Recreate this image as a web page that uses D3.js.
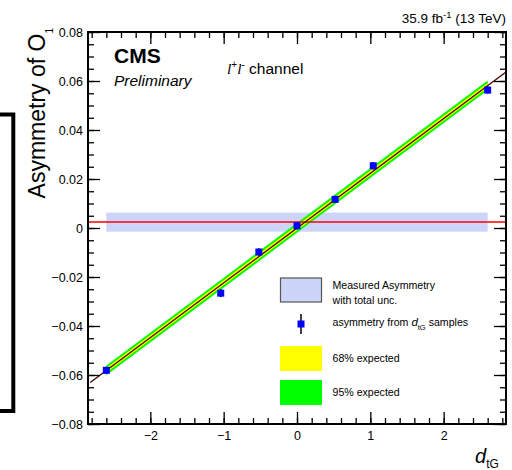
<!DOCTYPE html>
<html>
<head>
<meta charset="utf-8">
<script src="https://cdn.jsdelivr.net/npm/d3@7"></script>
<style>
  html, body { margin: 0; padding: 0; background: #fff; }
  svg { display: block; }
  text { font-family: "Liberation Sans", Arial, Helvetica, sans-serif; fill: #000; }
</style>
</head>
<body>
<svg id="chart" width="512" height="470"></svg>
<script>
// ---- data ----
const dValues    = [-2.6, -1.04, -0.52, 0, 0.52, 1.04, 2.6];
const asymValues = [-0.0581, -0.0266, -0.0098, 0.0009, 0.0117, 0.0254, 0.0563];
const asymErrors = [0.0015, 0.0016, 0.0015, 0.0015, 0.0015, 0.0015, 0.0015];

const fitX = [-2.82, 2.85];
const fitY = [-0.0631, 0.0637];

const bandX = [-2.6, 2.6];
const bandCentral = [-0.0581, 0.0582];
const band68 = [0.0010, 0.0010];
const band95 = [0.0020, 0.0020];

const measuredRangeX = [-2.6, 2.6];
const measuredValue = 0.0024;
const measuredUnc = 0.0039;

const xTicks = [-2, -1, 0, 1, 2];
const yTicks = [-0.08, -0.06, -0.04, -0.02, 0, 0.02, 0.04, 0.06, 0.08];

const legendLabels = ["Measured Asymmetry", "with total unc.", "asymmetry from ", "68% expected", "95% expected"];

// ---- layout ----
const svg = d3.select("#chart");
const L = 88, R = 506, T = 32, B = 424;
const x = d3.scaleLinear().domain([-2.85, 2.85]).range([L, R]);
const y = d3.scaleLinear().domain([-0.08, 0.08]).range([B, T]);

// left bracket artifact
svg.append("rect").attr("x", -10).attr("y", 114.5).attr("width", 23.3).attr("height", 296.5)
  .attr("fill", "none").attr("stroke", "#000").attr("stroke-width", 4);

const plot = svg.append("g");

// measured box
plot.append("rect")
  .attr("x", x(measuredRangeX[0])).attr("width", x(measuredRangeX[1]) - x(measuredRangeX[0]))
  .attr("y", y(measuredValue + measuredUnc)).attr("height", y(measuredValue - measuredUnc) - y(measuredValue + measuredUnc))
  .attr("fill", "#ccd5f9");

// bands
function bandPath(hw) {
  const pts = bandX.map((v, i) => [v, bandCentral[i], hw[i]]);
  return d3.area().x(d => x(d[0])).y0(d => y(d[1] - d[2])).y1(d => y(d[1] + d[2]))(pts);
}
plot.append("path").attr("d", bandPath(band95)).attr("fill", "#00ff00");
plot.append("path").attr("d", bandPath(band68)).attr("fill", "#ffff00");

// red measured line
plot.append("line").attr("x1", x(-2.85)).attr("x2", x(2.85))
  .attr("y1", y(measuredValue)).attr("y2", y(measuredValue))
  .attr("stroke", "#ff0000").attr("stroke-width", 1.5);

// fit line
plot.append("path")
  .attr("d", d3.line().x(d => x(d[0])).y(d => y(d[1]))(fitX.map((v, i) => [v, fitY[i]])))
  .attr("stroke", "#4a0000").attr("stroke-width", 1.3).attr("fill", "none");

// points
const pts = dValues.map((d, i) => ({ d, a: asymValues[i], e: asymErrors[i] }));
plot.selectAll(".err").data(pts).enter().append("line")
  .attr("x1", p => x(p.d)).attr("x2", p => x(p.d))
  .attr("y1", p => y(p.a - p.e)).attr("y2", p => y(p.a + p.e))
  .attr("stroke", "#000").attr("stroke-width", 1.5);
plot.selectAll(".pt").data(pts).enter().append("rect")
  .attr("x", p => x(p.d) - 3.5).attr("y", p => y(p.a) - 3.5)
  .attr("width", 7).attr("height", 7).attr("fill", "#0000ff");

// ---- axes ----
const fmt = v => Math.abs(v) < 1e-9 ? "0" : d3.format(".2f")(v);
const xMinor = d3.range(-28, 29, 2).map(v => v / 10);
const yMinor = d3.range(-16, 17, 1).map(v => v * 0.005);

function styleAxis(g, labels) {
  g.select(".domain").remove();
  g.selectAll(".tick line").attr("stroke", "#000").attr("stroke-width", 1.3);
  if (labels) g.selectAll(".tick text").attr("font-size", "12.5px").attr("fill", "#000");
  else g.selectAll(".tick text").remove();
}

// bottom
svg.append("g").attr("transform", `translate(0,${B})`)
  .call(d3.axisBottom(x).tickValues(xMinor).tickSize(-6).tickFormat(""))
  .call(g => styleAxis(g, false));
svg.append("g").attr("transform", `translate(0,${B})`)
  .call(d3.axisBottom(x).tickValues(xTicks).tickSize(-12).tickPadding(7).tickFormat(d3.format("d")))
  .call(g => styleAxis(g, true));
// top
svg.append("g").attr("transform", `translate(0,${T})`)
  .call(d3.axisTop(x).tickValues(xMinor).tickSize(-6).tickFormat(""))
  .call(g => styleAxis(g, false));
svg.append("g").attr("transform", `translate(0,${T})`)
  .call(d3.axisTop(x).tickValues(xTicks).tickSize(-12).tickFormat(""))
  .call(g => styleAxis(g, false));
// left
svg.append("g").attr("transform", `translate(${L},0)`)
  .call(d3.axisLeft(y).tickValues(yMinor).tickSize(-6).tickFormat(""))
  .call(g => styleAxis(g, false));
svg.append("g").attr("transform", `translate(${L},0)`)
  .call(d3.axisLeft(y).tickValues(yTicks).tickSize(-12).tickPadding(5).tickFormat(fmt))
  .call(g => styleAxis(g, true));
// right
svg.append("g").attr("transform", `translate(${R},0)`)
  .call(d3.axisRight(y).tickValues(yMinor).tickSize(-6).tickFormat(""))
  .call(g => styleAxis(g, false));
svg.append("g").attr("transform", `translate(${R},0)`)
  .call(d3.axisRight(y).tickValues(yTicks).tickSize(-12).tickFormat(""))
  .call(g => styleAxis(g, false));

// frame
svg.append("rect").attr("x", L).attr("y", T).attr("width", R - L).attr("height", B - T)
  .attr("fill", "none").attr("stroke", "#000").attr("stroke-width", 2);

// ---- texts ----
svg.append("text").attr("x", 114).attr("y", 63).attr("font-size", "21px").attr("font-weight", "bold").text("CMS");
svg.append("text").attr("x", 114).attr("y", 86).attr("font-size", "15.5px").attr("font-style", "italic").text("Preliminary");

const ch = svg.append("text").attr("x", 227).attr("y", 74).attr("font-size", "15.5px");
ch.append("tspan").attr("font-family", "Liberation Serif, Times New Roman, serif").attr("font-style", "italic").text("l");
ch.append("tspan").attr("font-size", "10px").attr("dy", -6).text("+");
ch.append("tspan").attr("font-family", "Liberation Serif, Times New Roman, serif").attr("font-style", "italic").attr("dy", 6).text("l");
ch.append("tspan").attr("font-size", "10px").attr("dy", -6).text("-");
ch.append("tspan").attr("dy", 6).text(" channel");

const lumi = svg.append("text").attr("x", 506).attr("y", 23).attr("font-size", "13.5px").attr("text-anchor", "end");
lumi.append("tspan").text("35.9 fb");
lumi.append("tspan").attr("font-size", "9.5px").attr("dy", -5).text("-1");
lumi.append("tspan").attr("dy", 5).text(" (13 TeV)");

// y title
const yt = svg.append("text").attr("transform", "translate(45,28) rotate(-90)")
  .attr("text-anchor", "end").attr("font-size", "23px");
yt.append("tspan").text("Asymmetry of O");
yt.append("tspan").attr("font-size", "10px").attr("dy", 8).text("1");

// x title
const xt = svg.append("text").attr("x", 475).attr("y", 463).attr("font-size", "20px");
xt.append("tspan").attr("font-style", "italic").text("d");
xt.append("tspan").attr("font-size", "12px").attr("dy", 5).text("tG");

// ---- legend ----
const lg = svg.append("g");
lg.append("rect").attr("x", 280.5).attr("y", 278).attr("width", 41).attr("height", 24)
  .attr("fill", "#ccd5f9").attr("stroke", "#555").attr("stroke-width", 1.2);
lg.append("line").attr("x1", 301).attr("x2", 301).attr("y1", 314).attr("y2", 334)
  .attr("stroke", "#000").attr("stroke-width", 1.5);
lg.append("rect").attr("x", 297.5).attr("y", 320.5).attr("width", 7).attr("height", 7).attr("fill", "#0000ff");
lg.append("rect").attr("x", 280).attr("y", 346).attr("width", 42).attr("height", 25).attr("fill", "#ffff00");
lg.append("rect").attr("x", 280).attr("y", 380).attr("width", 42).attr("height", 25).attr("fill", "#00ff00");

const lfs = "10.6px";
lg.append("text").attr("x", 332.5).attr("y", 289).attr("font-size", lfs).text(legendLabels[0]);
lg.append("text").attr("x", 332.5).attr("y", 303.5).attr("font-size", lfs).text(legendLabels[1]);
const l2 = lg.append("text").attr("x", 332.5).attr("y", 326).attr("font-size", lfs);
l2.append("tspan").text(legendLabels[2]);
l2.append("tspan").attr("font-style", "italic").attr("font-size", "11.5px").text("d");
l2.append("tspan").attr("font-size", "7.5px").attr("dy", 4).text("tG");
l2.append("tspan").attr("dy", -4).text(" samples");
lg.append("text").attr("x", 332.5).attr("y", 361.5).attr("font-size", lfs).text(legendLabels[3]);
lg.append("text").attr("x", 332.5).attr("y", 396).attr("font-size", lfs).text(legendLabels[4]);
</script>
</body>
</html>
